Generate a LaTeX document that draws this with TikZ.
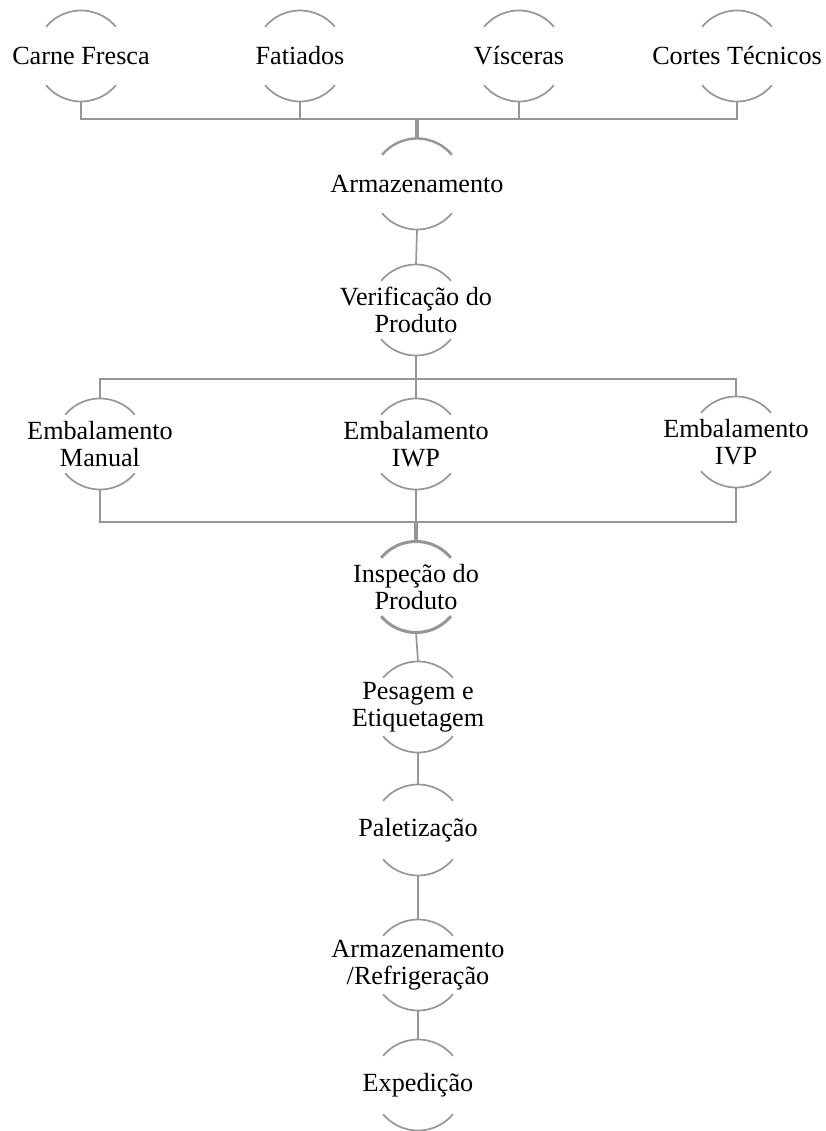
\documentclass[tikz,border=0pt]{standalone}
\usepackage{fontspec}
\setmainfont{Liberation Serif}
\definecolor{edgegray}{RGB}{150,150,150}
\tikzset{
  proc/.style={circle, minimum size=91pt, inner sep=0pt, outer sep=0pt,
    label={[align=center, font=\fontsize{26.2}{27}\selectfont, inner sep=0pt]center:#1}},
  conn/.style={draw=edgegray, line width=1.7pt},
  thickconn/.style={draw=edgegray, line width=3.2pt},
}
\newcommand{\halfarcs}[2]{%
  \draw[draw=edgegray, line width=#2] (#1.40) arc[start angle=40, end angle=140, radius=45.5pt];
  \draw[draw=edgegray, line width=#2] (#1.220) arc[start angle=220, end angle=320, radius=45.5pt];
}
\begin{document}
\begin{tikzpicture}[x=1pt, y=1pt]
\useasboundingbox (0,0) rectangle (826,-1131);
% nodes
\node[proc={Carne Fresca}] (cf) at (81,-56) {};
\node[proc={Fatiados}] (fa) at (300,-56) {};
\node[proc={Vísceras}] (vi) at (519,-56) {};
\node[proc={Cortes Técnicos}] (ct) at (737,-56) {};
\node[proc={Armazenamento}] (ar) at (417,-184) {};
\node[proc={Verificação do\\Produto}] (vp) at (416,-310) {};
\node[proc={Embalamento\\Manual}] (em) at (100,-444) {};
\node[proc={Embalamento\\IWP}] (iw) at (416,-444) {};
\node[proc={Embalamento\\IVP}] (iv) at (736,-442) {};
\node[proc={Inspeção do\\Produto}] (ip) at (416,-587) {};
\node[proc={Pesagem e\\Etiquetagem}] (pe) at (418,-707) {};
\node[proc={Paletização}] (pa) at (418,-830) {};
\node[proc={Armazenamento\\/Refrigeração}] (rf) at (418,-965) {};
\node[proc={Expedição}] (ex) at (418,-1085) {};
% arcs
\foreach \n in {cf,fa,vi,ct,vp,em,iw,iv,pe,pa,rf,ex}{\halfarcs{\n}{1.7pt}}
\draw[draw=edgegray, line width=2.4pt] (ar.40) arc[start angle=40, end angle=140, radius=45.5pt];
\draw[draw=edgegray, line width=1.7pt] (ar.220) arc[start angle=220, end angle=320, radius=45.5pt];
\halfarcs{ip}{3pt}
% junction coordinates
\coordinate (b1) at (417,-119);
\coordinate (b2) at (416,-379);
\coordinate (b3) at (416,-522);
% connectors
\draw[conn] (cf.south) |- (b1);
\draw[conn] (fa.south) |- (b1);
\draw[conn] (vi.south) |- (b1);
\draw[conn] (ct.south) |- (b1);
\draw[thickconn] (b1) -- (ar.north);
\draw[conn] (ar.south) -- (vp.north);
\draw[conn] (vp.south) -- (b2);
\draw[conn] (b2) -| (em.north);
\draw[conn] (b2) -| (iv.north);
\draw[conn] (b2) -- (iw.north);
\draw[conn] (em.south) |- (b3);
\draw[conn] (iv.south) |- (b3);
\draw[conn] (iw.south) -- (b3);
\draw[thickconn] (b3) -- (ip.north);
\draw[conn] (ip.south) -- (pe.north);
\draw[conn] (pe.south) -- (pa.north);
\draw[conn] (pa.south) -- (rf.north);
\draw[conn] (rf.south) -- (ex.north);
\end{tikzpicture}
\end{document}
